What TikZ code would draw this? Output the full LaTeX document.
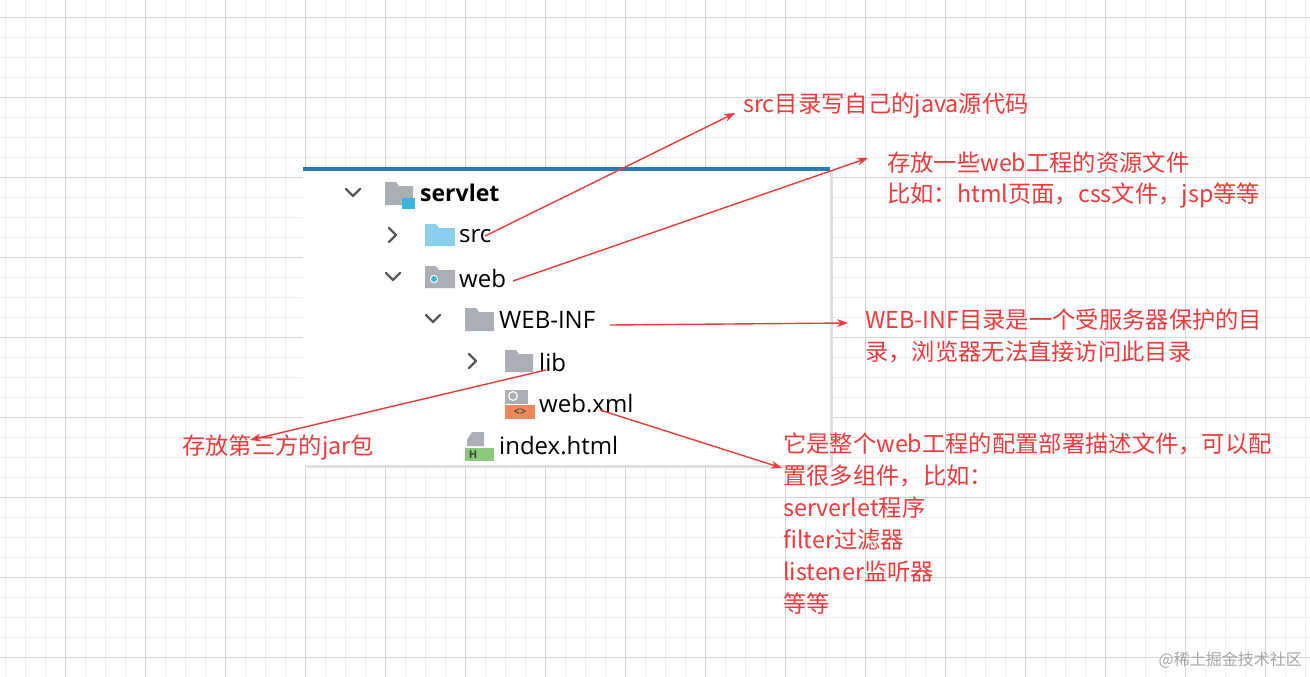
\documentclass[tikz,border=0pt]{standalone}
\usepackage{fontspec}
\setmainfont{Open Sans}
\newfontfamily\cjk{Noto Sans CJK SC}
\usetikzlibrary{arrows.meta}
\definecolor{gminor}{HTML}{EFEFEF}
\definecolor{gmajor}{HTML}{D4D4D4}
\definecolor{rd}{HTML}{EE3A3A}
\definecolor{ic}{HTML}{A9AFB5}
\definecolor{bl}{HTML}{3CB4E0}
\definecolor{lb}{HTML}{8AD0EC}
\definecolor{topbar}{HTML}{2A7AB8}
\definecolor{xmlc}{HTML}{F0895A}
\definecolor{htmc}{HTML}{8BC97A}
\begin{document}
\begin{tikzpicture}[x=1pt,y=-1pt,
  note/.style={font=\cjk\fontsize{23.3}{26}\selectfont, text=rd, anchor=west, inner sep=0},
  item/.style={font=\fontsize{24}{26}\selectfont, anchor=west, inner sep=0},
  chev/.style={draw=black!65, line width=2.2pt, line cap=round, line join=round},
  arr/.style={draw=rd, line width=1.4pt, -{Stealth[length=11pt,width=8pt]}}]
\useasboundingbox (0,0) rectangle (1310,677);
\fill[white] (0,0) rectangle (1310,677);
\foreach \x in {5,25,...,1305} \draw[gminor,line width=0.8pt] (\x,0) -- (\x,677);
\foreach \y in {17,37,...,677} \draw[gminor,line width=0.8pt] (0,\y) -- (1310,\y);
\foreach \x in {65,145,...,1305} \draw[gmajor,line width=0.8pt] (\x,0) -- (\x,677);
\foreach \y in {17,97,...,677} \draw[gmajor,line width=0.8pt] (0,\y) -- (1310,\y);
% panel
\fill[black!12] (305,170) rectangle (833,468);
\fill[white] (303,168) rectangle (830,465);
\fill[topbar] (303,167) rectangle (830,171);
% chevrons
\draw[chev] (346,189) -- (353,196) -- (360,189);
\draw[chev] (389,228) -- (396,235) -- (389,242);
\draw[chev] (386,273) -- (393,280) -- (400,273);
\draw[chev] (426,315) -- (433,322) -- (440,315);
\draw[chev] (469,354) -- (476,361) -- (469,368);
% icons
\fill[ic] (385,182) -- (396,182) -- (399,186) -- (413,186) -- (413,205) -- (385,205) -- cycle;
\fill[bl] (402,198) rectangle (415,209);
\fill[lb] (425,224) -- (436,224) -- (439,228) -- (455,228) -- (455,246) -- (425,246) -- cycle;
\fill[ic] (425,266) -- (436,266) -- (439,270) -- (455,270) -- (455,288) -- (425,288) -- cycle;
\fill[white] (434,279) circle (4.2); \fill[bl] (434,279) circle (3);
\fill[ic] (465,308) -- (476,308) -- (479,312) -- (494,312) -- (494,331) -- (465,331) -- cycle;
\fill[ic] (505,350) -- (516,350) -- (519,354) -- (533,354) -- (533,372) -- (505,372) -- cycle;
\fill[ic] (505,390) rectangle (528,404);
\fill[white] (513,396) circle (5); \fill[ic] (513,396) circle (3.6);
\fill[xmlc] (505,405) rectangle (535,419);
\node[font=\bfseries\fontsize{11}{11}\selectfont,text=black!70,inner sep=0] (xmlg) at (520,412) {<>};
\fill[ic] (472,432) -- (484,432) -- (484,446) -- (467,446) -- (467,440) -- cycle;
\fill[htmc] (465,448) rectangle (494,461);
\node[font=\bfseries\fontsize{11}{11}\selectfont,text=black!75,inner sep=0] (hg) at (473,455) {H};
% items
\node[item,font=\bfseries\fontsize{23}{26}\selectfont] (servlet) at (420,193) {servlet};
\node[item] (src) at (459,236) {src};
\node[item] (web) at (459,278) {web};
\node[item] (webinf) at (499,320) {WEB-INF};
\node[item] (lib) at (539,362) {lib};
\node[item] (webxml) at (539,404) {web.xml};
\node[item] (index) at (499,446) {index.html};
% notes
\node[note] (n1) at (743,105) {src目录写自己的java源代码};
\node[note] (n2) at (887,163) {存放一些web工程的资源文件};
\node[note] (n2b) at (887,195) {比如：html页面，css文件，jsp等等};
\node[note] (n3) at (865,320) {WEB-INF目录是一个受服务器保护的目};
\node[note] (n3b) at (865,352) {录，浏览器无法直接访问此目录};
\node[note] (n4) at (182,447) {存放第三方的jar包};
\node[note,align=left,anchor=north west,font=\cjk\fontsize{23.3}{32}\selectfont] (n5) at (783,433) {它是整个web工程的配置部署描述文件，可以配\\置很多组件，比如：\\serverlet程序\\filter过滤器\\listener监听器\\等等};
\node[font=\cjk\fontsize{16}{18}\selectfont,text=black!35,anchor=east,inner sep=0] (wm) at (1302,660) {@稀土掘金技术社区};
% connectors
\coordinate (a1) at (485,236); \coordinate (t1) at (735,113);
\coordinate (a2) at (513,281); \coordinate (t2) at (868,158);
\coordinate (a3) at (610,325); \coordinate (t3) at (848,323);
\coordinate (a4) at (546,370); \coordinate (t4) at (250,440);
\coordinate (a5) at (600,410); \coordinate (t5) at (782,468);
\draw[arr] (a1) -- (t1);
\draw[arr] (a2) -- (t2);
\draw[arr] (a3) -- (t3);
\draw[arr] (a4) -- (t4);
\draw[arr] (a5) -- (t5);
\end{tikzpicture}
\end{document}
